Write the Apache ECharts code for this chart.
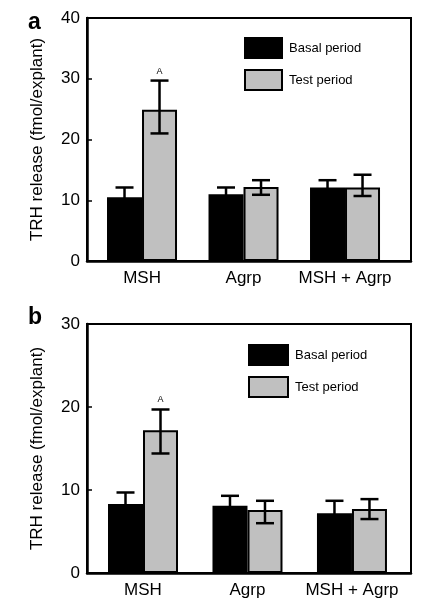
<!DOCTYPE html>
<html>
<head>
<meta charset="utf-8">
<script src="https://cdn.jsdelivr.net/npm/echarts@6/dist/echarts.min.js"></script>
<style>
html,body{margin:0;padding:0;background:#fff;}
#chart{width:427px;height:611px;}
</style>
</head>
<body>
<div id="chart"></div>
<script>
// ---- data ----
var categories = ['MSH', 'Agrp', 'MSH + Agrp'];
var seriesNames = ['Basal period', 'Test period'];

// panel a
var aBasal = [10.5, 11.0, 12.1];
var aBasalErrLow = [8.9, 9.9, 10.9];
var aBasalErrHigh = [12.1, 12.1, 13.3];
var aTest = [24.9, 12.2, 12.1];
var aTestErrLow = [21.0, 10.9, 10.7];
var aTestErrHigh = [29.7, 13.3, 14.2];
var aTestMarks = ['A', '', ''];
var aYTicks = [0, 10, 20, 30, 40];

// panel b
var bBasal = [8.3, 8.1, 7.2];
var bBasalErrLow = [6.9, 6.9, 5.8];
var bBasalErrHigh = [9.7, 9.3, 8.7];
var bTest = [17.2, 7.6, 7.7];
var bTestErrLow = [14.4, 6.0, 6.5];
var bTestErrHigh = [19.7, 8.7, 8.9];
var bTestMarks = ['A', '', ''];
var bYTicks = [0, 10, 20, 30];

// ---- style ----
var FONT = '"Liberation Sans", Arial, Helvetica, sans-serif';
var BAR_W = 35;
var GRAY = '#c0c0c0';

var chart = echarts.init(document.getElementById('chart'), null, {renderer: 'canvas'});

function barData(vals) {
  return vals.map(function (v, i) { return [i + 1, v]; });
}
function errData(low, high, marks) {
  return low.map(function (l, i) { return [i + 1, l, high[i], marks ? marks[i] : '']; });
}
function errSeries(name, gridIdx, low, high, marks, side) {
  return {
    type: 'custom',
    name: name + ' err',
    xAxisIndex: gridIdx, yAxisIndex: gridIdx,
    z: 5,
    data: errData(low, high, marks),
    renderItem: function (params, api) {
      var x = api.value(0);
      var lo = api.coord([x, api.value(1)]);
      var hi = api.coord([x, api.value(2)]);
      var cx = lo[0] + side * BAR_W / 2;
      var capHalf = 9;
      var style = {stroke: '#000', lineWidth: 2.5};
      var children = [
        {type: 'line', shape: {x1: cx, y1: lo[1], x2: cx, y2: hi[1]}, style: style},
        {type: 'line', shape: {x1: cx - capHalf, y1: hi[1], x2: cx + capHalf, y2: hi[1]}, style: style},
        {type: 'line', shape: {x1: cx - capHalf, y1: lo[1], x2: cx + capHalf, y2: lo[1]}, style: style}
      ];
      var mark = api.value(3);
      if (mark) {
        children.push({type: 'text', style: {text: mark, x: cx, y: hi[1] - 5, align: 'center', verticalAlign: 'bottom', font: '9px ' + FONT, fill: '#000'}});
      }
      return {type: 'group', children: children};
    }
  };
}

function xAxisFor(gridIdx, min, max) {
  return {
    type: 'value', gridIndex: gridIdx, min: min, max: max,
    splitLine: {show: false},
    axisLine: {show: true, lineStyle: {color: '#000', width: 2.5}},
    axisTick: {show: false},
    axisLabel: {
      customValues: [1, 2, 3],
      formatter: function (v) { return categories[Math.round(v) - 1] || ''; },
      fontSize: 17, color: '#000', fontFamily: FONT, margin: 9
    }
  };
}
function yAxisFor(gridIdx, ticks) {
  return {
    type: 'value', gridIndex: gridIdx,
    min: ticks[0], max: ticks[ticks.length - 1], interval: ticks[1] - ticks[0],
    name: 'TRH release (fmol/explant)',
    nameLocation: 'middle', nameGap: 41,
    nameTextStyle: {fontSize: 17, color: '#000', fontFamily: FONT},
    splitLine: {show: false},
    axisLine: {show: true, lineStyle: {color: '#000', width: 2.5}},
    axisTick: {show: true, inside: true, length: 5, lineStyle: {color: '#000', width: 1.5}},
    axisLabel: {fontSize: 17, color: '#000', fontFamily: FONT, margin: 7}
  };
}
function barSeries(name, gridIdx, vals, color) {
  return {
    type: 'bar', name: name, xAxisIndex: gridIdx, yAxisIndex: gridIdx,
    data: barData(vals), barWidth: BAR_W, barGap: '0%',
    itemStyle: {color: color, borderColor: '#000', borderWidth: 2},
    emphasis: {disabled: true}
  };
}
function legendFor(left, top, w, h) {
  return {
    orient: 'vertical', left: left, top: top, padding: 0,
    itemWidth: w, itemHeight: h, itemGap: 10,
    icon: 'rect', selectedMode: false,
    data: seriesNames,
    textStyle: {fontSize: 13, color: '#000', fontFamily: FONT, padding: [0, 0, 0, 2]}
  };
}

var option = {
  backgroundColor: '#fff',
  animation: false,
  grid: [
    {left: 87, top: 18, width: 324, height: 243, show: true, borderColor: '#000', borderWidth: 2, backgroundColor: 'transparent'},
    {left: 87, top: 324, width: 324, height: 249, show: true, borderColor: '#000', borderWidth: 2, backgroundColor: 'transparent'}
  ],
  xAxis: [xAxisFor(0, 0.458, 3.65), xAxisFor(1, 0.464, 3.565)],
  yAxis: [yAxisFor(0, aYTicks), yAxisFor(1, bYTicks)],
  legend: [legendFor(244, 37, 37, 20), legendFor(248, 344, 39, 20)],
  graphic: [
    {type: 'text', left: 28, top: 11, style: {text: 'a', font: 'bold 23px ' + FONT, fill: '#000'}},
    {type: 'text', left: 28, top: 306, style: {text: 'b', font: 'bold 23px ' + FONT, fill: '#000'}}
  ],
  series: [
    barSeries(seriesNames[0], 0, aBasal, '#000'),
    barSeries(seriesNames[1], 0, aTest, GRAY),
    errSeries(seriesNames[0], 0, aBasalErrLow, aBasalErrHigh, null, -1),
    errSeries(seriesNames[1], 0, aTestErrLow, aTestErrHigh, aTestMarks, 1),
    barSeries(seriesNames[0], 1, bBasal, '#000'),
    barSeries(seriesNames[1], 1, bTest, GRAY),
    errSeries(seriesNames[0], 1, bBasalErrLow, bBasalErrHigh, null, -1),
    errSeries(seriesNames[1], 1, bTestErrLow, bTestErrHigh, bTestMarks, 1)
  ]
};
chart.setOption(option);
</script>
</body>
</html>
